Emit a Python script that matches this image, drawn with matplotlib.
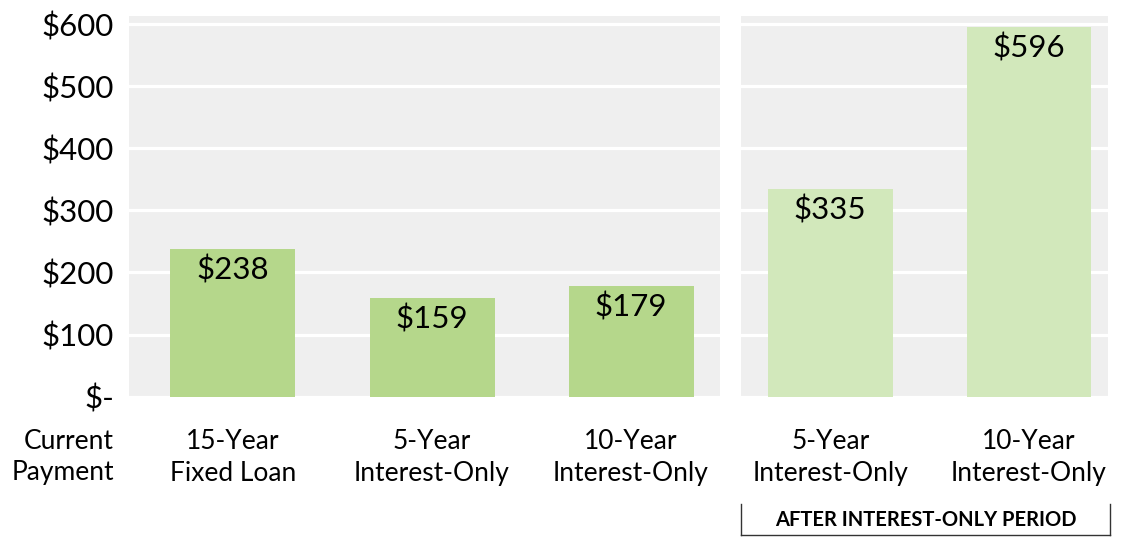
import matplotlib
matplotlib.use("Agg")
import matplotlib.pyplot as plt
from matplotlib.lines import Line2D

plt.rcParams['font.family'] = ['Lato', 'DejaVu Sans']

# Data
current_labels = ["15-Year\nFixed Loan", "5-Year\nInterest-Only", "10-Year\nInterest-Only"]
current_values = [238, 159, 179]
after_labels = ["5-Year\nInterest-Only", "10-Year\nInterest-Only"]
after_values = [335, 596]
y_ticks = [0, 100, 200, 300, 400, 500, 600]
y_ticklabels = ["$-", "$100", "$200", "$300", "$400", "$500", "$600"]
row_label = "Current\nPayment"
bracket_label = "AFTER INTEREST-ONLY PERIOD"

W, H = 1125, 538
fig = plt.figure(figsize=(W / 100, H / 100), dpi=100)

def frac_x(px):
    return px / W

def frac_y(py):
    return 1 - py / H

top_px, bot_px = 16, 396.7
ax1 = fig.add_axes([frac_x(129.3), frac_y(bot_px), frac_x(720 - 129.3), (bot_px - top_px) / H])
ax2 = fig.add_axes([frac_x(741), frac_y(bot_px), frac_x(1107.7 - 741), (bot_px - top_px) / H])

bg = "#efefef"
col_cur = "#b5d78b"
col_after = "#d2e8bb"
cat_fs = 19
num_fs = 22.5

def style(ax, labels, values, color, xlim, show_y):
    x = list(range(len(values)))
    ax.set_facecolor(bg)
    ax.bar(x, values, width=0.628, color=color, zorder=3)
    ax.set_xlim(*xlim)
    ax.set_ylim(0, 613)
    ax.set_yticks(y_ticks)
    ax.yaxis.grid(True, color="white", linewidth=2.3, zorder=1)
    ax.set_axisbelow(True)
    for s in ax.spines.values():
        s.set_visible(False)
    ax.set_xticks(x)
    ax.set_xticklabels(labels, fontsize=cat_fs, linespacing=1.32)
    ax.tick_params(axis="x", length=0, pad=23.5)
    if show_y:
        ax.set_yticklabels(y_ticklabels, fontsize=num_fs)
        ax.tick_params(axis="y", length=0, pad=11)
    else:
        ax.tick_params(axis="y", length=0, labelleft=False)
    for xi, v in zip(x, values):
        ax.annotate(f"${v}", (xi, v), xytext=(0, -15.5), textcoords="offset points",
                    ha="center", va="center", fontsize=num_fs, color="black", zorder=4)

style(ax1, current_labels, current_values, col_cur, (-0.521, 2.447), True)
style(ax2, after_labels, after_values, col_after, (-0.449, 1.396), False)

fig.text(frac_x(114), frac_y(457), row_label, ha="right", va="center",
         fontsize=cat_fs, linespacing=1.32)

# bracket
lx, rx, ty, by = 741, 1110, 504, 535
for xs, ys in [([lx, lx], [ty, by]), ([lx, rx], [by, by]), ([rx, rx], [by, ty])]:
    fig.add_artist(Line2D([frac_x(v) for v in xs], [frac_y(v) for v in ys],
                          color="#333333", linewidth=1.0))
fig.text(frac_x((lx + rx) / 2), frac_y(520), bracket_label, ha="center", va="center",
         fontsize=14.5, fontweight="bold")

fig.savefig("out.png", dpi=100)
